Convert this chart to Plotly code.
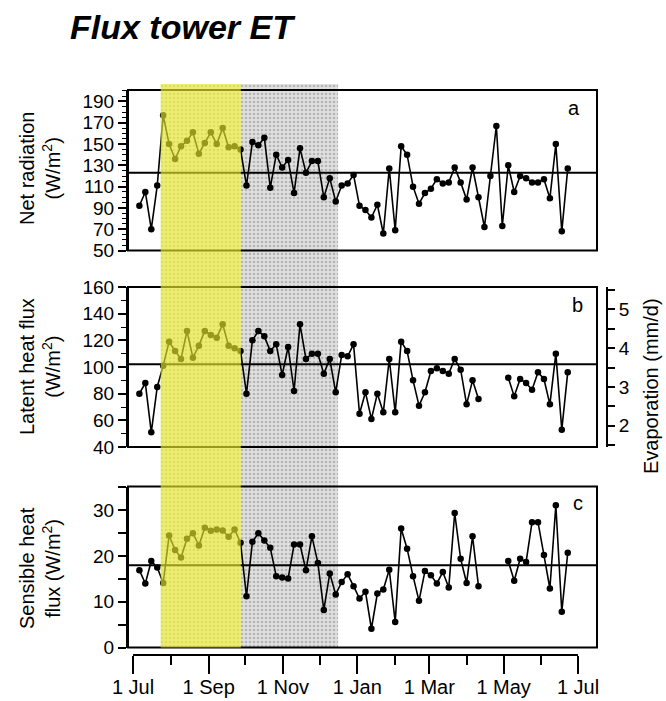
import plotly.graph_objects as go
import pandas as pd

W, H = 666, 701

# ---------------- data ----------------
dates = pd.date_range("2002-07-06 05:00", "2003-06-22 14:00", periods=73)

net_radiation = [92, 105, 70, 111, 177, 150, 136, 148, 153, 161, 141, 151, 161, 150, 165, 147,
                 148, 145, 111, 152, 149, 156, 109, 140, 128, 135, 104, 146, 123, 134, 134, 100,
                 118, 96, 111, 113, 121, 92, 88, 81, 93, 66, 127, 69, 148, 140, 110, 94, 104,
                 108, 117, 113, 114, 128, 114, 98, 128, 100, 72, 120, 167, 73, 130, 105, 120,
                 118, 114, 114, 117, 99, 150, 68, 127]

latent_heat = [80, 88, 51, 85, 101, 119, 112, 106, 127, 107, 116, 127, 124, 122, 132, 116,
               114, 112, 80, 120, 127, 123, 112, 117, 94, 115, 82, 132, 106, 110, 110, 95,
               106, 81, 109, 108, 117, 65, 81, 61, 80, 66, 106, 66, 119, 112, 90, 71, 81, 97,
               99, 97, 95, 106, 98, 72, 90, 76, None, None, None, None, 92, 78, 91, 88, 83, 96,
               91, 72, 110, 53, 96]

sensible_heat = [16.9, 14.0, 18.9, 17.5, 14.1, 24.5, 21.3, 19.7, 23.8, 25.0, 22.3, 26.2, 25.5,
                 25.8, 25.6, 24.2, 25.8, 22.9, 11.2, 23.1, 25.0, 23.4, 21.8, 15.6, 15.3, 15.1,
                 22.5, 22.5, 16.9, 24.3, 18.5, 8.2,
                 16.2, 11.6, 14.3, 16.0, 13.4, 10.7, 12.2, 4.1, 11.8, 12.7, 17.0, 5.6, 26.0, 21.6,
                 15.6, 10.2, 16.7, 15.8, 14.0, 16.5, 13.1, 29.4, 19.4, 14.1, 24.3, 13.4,
                 None, None, None, None, 18.9, 14.6, 19.4, 18.7, 27.4, 27.4, 20.2, 12.9, 31.1,
                 7.8, 20.7]

annual_means = [123, 102, 18]          # horizontal reference lines (a, b, c)

period_bounds = ["2002-07-23 17:00", "2002-09-27 10:00", "2002-12-16 05:00"]  # yellow | hatched

major_tick_dates = ["2002-07-01", "2002-09-01", "2002-11-01", "2003-01-01",
                    "2003-03-01", "2003-05-01", "2003-07-01"]
major_tick_labels = ["1 Jul", "1 Sep", "1 Nov", "1 Jan", "1 Mar", "1 May", "1 Jul"]
minor_tick_dates = ["2002-08-01", "2002-10-01", "2002-12-01", "2003-02-01",
                    "2003-04-01", "2003-06-01"]

# ---------------- layout geometry (pixels) ----------------
def py(p):
    return 1 - p / H

def px(p):
    return p / W

FONT = "Liberation Sans, Arial, sans-serif"
x_dom = [px(128), px(597)]
dom_a = [py(250.5), py(90)]
dom_b = [py(447), py(287)]
dom_c = [py(647.5), py(486.5)]

fig = go.Figure()

# hatched background period (drawn in a full-height helper subplot beneath)
fig.add_trace(go.Scatter(
    x=[period_bounds[0], period_bounds[0], period_bounds[2], period_bounds[2], period_bounds[0]],
    y=[0, 1, 1, 0, 0], xaxis="x", yaxis="y", mode="lines", line=dict(width=0),
    fill="toself",
    fillpattern=dict(shape=".", fgcolor="#8a8a8a", bgcolor="#e0e0e0", size=4, solidity=0.35),
    hoverinfo="skip", showlegend=False))

line_style = dict(color="black", width=1.6)
marker_style = dict(color="black", size=6.5, symbol="circle")

fig.add_trace(go.Scatter(x=dates, y=net_radiation, xaxis="x", yaxis="y2", mode="lines+markers",
                         line=line_style, marker=marker_style, showlegend=False))
fig.add_trace(go.Scatter(x=dates, y=latent_heat, xaxis="x", yaxis="y3", mode="lines+markers",
                         line=line_style, marker=marker_style, showlegend=False,
                         connectgaps=False))
fig.add_trace(go.Scatter(x=dates, y=sensible_heat, xaxis="x", yaxis="y4", mode="lines+markers",
                         line=line_style, marker=marker_style, showlegend=False,
                         connectgaps=False))

yax_common = dict(anchor="x", showline=True, linecolor="black", linewidth=2, ticks="outside",
                  ticklen=8, tickwidth=1.6, tickcolor="black", showgrid=False, zeroline=False,
                  tickfont=dict(family=FONT, size=19, color="black"), fixedrange=True,
                  automargin=False)

fig.update_layout(
    width=W, height=H,
    margin=dict(l=0, r=0, t=0, b=0, autoexpand=False),
    paper_bgcolor="white", plot_bgcolor="rgba(0,0,0,0)",
    font=dict(family=FONT, color="black"),
    showlegend=False,
    xaxis=dict(domain=x_dom, type="date", range=["2002-06-26 21:00", "2003-07-16 14:00"],
               anchor="free", position=py(655), showline=False, showgrid=False, zeroline=False,
               automargin=False,
               tickmode="array", tickvals=major_tick_dates, ticktext=major_tick_labels,
               ticks="outside", ticklen=18, tickwidth=2, tickcolor="black",
               ticklabelstandoff=-4,
               tickfont=dict(family=FONT, size=20, color="black"),
               minor=dict(tickmode="array", tickvals=minor_tick_dates, ticks="outside",
                          ticklen=9, tickwidth=2, tickcolor="black", showgrid=False)),
    yaxis=dict(domain=[py(647.5), py(84)], range=[0, 1], visible=False, anchor="x",
               fixedrange=True, automargin=False),
    yaxis2=dict(domain=dom_a, range=[50, 200.8], tick0=50, dtick=20,
                minor=dict(tick0=50, dtick=5, ticks="outside", ticklen=4, tickwidth=1.4,
                           tickcolor="black"), **yax_common),
    yaxis3=dict(domain=dom_b, range=[40, 160], tick0=40, dtick=20,
                minor=dict(tick0=40, dtick=10, ticks="outside", ticklen=5, tickwidth=1.4,
                           tickcolor="black"), **yax_common),
    yaxis4=dict(domain=dom_c, range=[0, 35.2], tick0=0, dtick=10,
                minor=dict(tick0=0, dtick=5, ticks="outside", ticklen=8, tickwidth=1.6,
                           tickcolor="black"), **yax_common),
    yaxis5=dict(overlaying="y3", side="right", anchor="free", position=px(607),
                range=[1.45, 5.58], tick0=2, dtick=1, showline=True, linecolor="black",
                linewidth=2, ticks="outside", ticklen=7, tickwidth=1.6, tickcolor="black",
                showgrid=False, zeroline=False, automargin=False,
                tickfont=dict(family=FONT, size=19, color="black"),
                minor=dict(tick0=1.5, dtick=0.5, ticks="outside", ticklen=7, tickwidth=1.6,
                           tickcolor="black"), fixedrange=True),
)

# invisible trace so the right axis is drawn
fig.add_trace(go.Scatter(x=[dates[0]], y=[None], xaxis="x", yaxis="y5", mode="markers",
                         showlegend=False, hoverinfo="skip"))

shapes = []
# x-axis baseline (1 Jul to 1 Jul)
shapes.append(dict(type="line", xref="x", yref="paper", x0=major_tick_dates[0],
                   x1=major_tick_dates[-1], y0=py(655), y1=py(655),
                   line=dict(color="black", width=2)))
# panel frames and mean lines
for yid, m in zip(["y2", "y3", "y4"], annual_means):
    shapes.append(dict(type="rect", xref="x domain", yref=f"{yid} domain", x0=0, x1=1, y0=0,
                       y1=1, line=dict(color="black", width=2), fillcolor="rgba(0,0,0,0)"))
    shapes.append(dict(type="line", xref="x domain", yref=yid, x0=0, x1=1, y0=m, y1=m,
                       line=dict(color="black", width=2)))
# yellow highlighted period
shapes.append(dict(type="rect", xref="x", yref="paper", x0=period_bounds[0], x1=period_bounds[1],
                   y0=py(647.5), y1=py(84), line=dict(width=0),
                   fillcolor="rgb(245,245,45)", opacity=0.62, layer="above"))
fig.update_layout(shapes=shapes)

annotations = [
    dict(text="<b><i>Flux tower ET</i></b>", x=px(68), y=py(27), xanchor="left",
         yanchor="middle", font=dict(family=FONT, size=34, color="black")),
    dict(text="Net radiation<br>(W/m<sup>2</sup>)", x=px(40), y=py(169), textangle=-90),
    dict(text="Latent heat flux<br>(W/m<sup>2</sup>)", x=px(40), y=py(367), textangle=-90),
    dict(text="Sensible heat<br>flux (W/m<sup>2</sup>)", x=px(40), y=py(568), textangle=-90),
    dict(text="Evaporation (mm/d)", x=px(651), y=py(386), textangle=-90),
    dict(text="a", x=px(574), y=py(108)),
    dict(text="b", x=px(577), y=py(305)),
    dict(text="c", x=px(578), y=py(503)),
]
for a in annotations:
    a.setdefault("xref", "paper")
    a.setdefault("yref", "paper")
    a.setdefault("showarrow", False)
    a.setdefault("xanchor", "center")
    a.setdefault("yanchor", "middle")
    a.setdefault("font", dict(family=FONT, size=20, color="black"))
fig.update_layout(annotations=annotations)

fig.write_html("out.html")
